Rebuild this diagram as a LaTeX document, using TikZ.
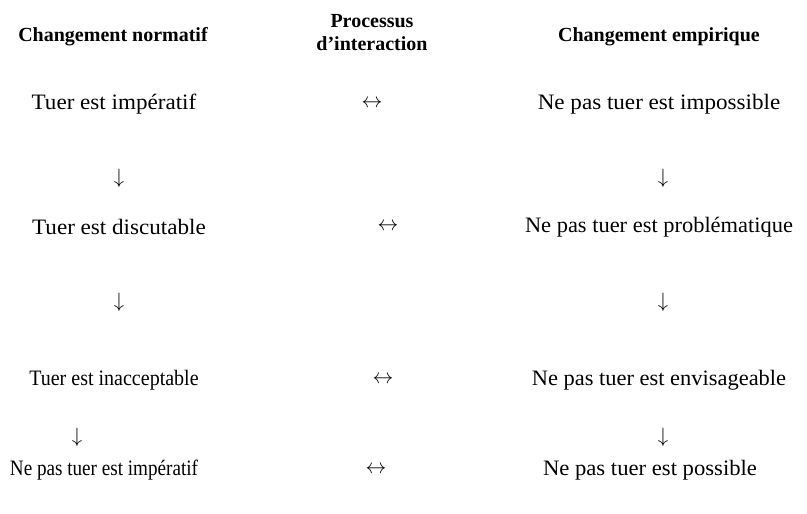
\documentclass[tikz,border=0pt]{standalone}
\usepackage{fontspec}
\setmainfont{Liberation Serif}
\begin{document}
\begin{tikzpicture}[x=1pt,y=-1pt,
  every node/.style={inner sep=0pt, anchor=center},
  head/.style={font=\fontsize{20}{23}\selectfont\bfseries, align=center},
  item/.style={font=\fontsize{22}{24}\selectfont},
  arr/.style={font=\fontsize{20}{20}\selectfont}]
\useasboundingbox (0,0) rectangle (807,514);
% headers
\node[head] (hn) at (113,37) {Changement normatif};
\node[head] (hp) at (372,33) {Processus\\d’interaction};
\node[head] (he) at (659,37) {Changement empirique};
% row 1
\node[item] (n1) at (114,104) {\scalebox{1.05}[1]{Tuer est impératif}};
\node[arr]  (i1) at (372,104) {$\leftrightarrow$};
\node[item] (e1) at (659,104) {\scalebox{1.05}[1]{Ne pas tuer est impossible}};
\node[arr]  (dn1) at (119,178) {$\downarrow$};
\node[arr]  (de1) at (663,178) {$\downarrow$};
% row 2
\node[item] (n2) at (119,227) {\scalebox{1.05}[1]{Tuer est discutable}};
\node[arr]  (i2) at (388,227) {$\leftrightarrow$};
\node[item] (e2) at (659,227) {\scalebox{1.02}[1]{Ne pas tuer est problématique}};
\node[arr]  (dn2) at (119,302) {$\downarrow$};
\node[arr]  (de2) at (663,302) {$\downarrow$};
% row 3
\node[item] (n3) at (114,380) {\scalebox{0.91}[1]{Tuer est inacceptable}};
\node[arr]  (i3) at (383,380) {$\leftrightarrow$};
\node[item] (e3) at (659,380) {\scalebox{1.02}[1]{Ne pas tuer est envisageable}};
\node[arr]  (dn3) at (77,437) {$\downarrow$};
\node[arr]  (de3) at (663,437) {$\downarrow$};
% row 4
\node[item] (n4) at (104,470) {\scalebox{0.87}[1]{Ne pas tuer est impératif}};
\node[arr]  (i4) at (376,470) {$\leftrightarrow$};
\node[item] (e4) at (650,470) {\scalebox{1.03}[1]{Ne pas tuer est possible}};
\end{tikzpicture}
\end{document}
